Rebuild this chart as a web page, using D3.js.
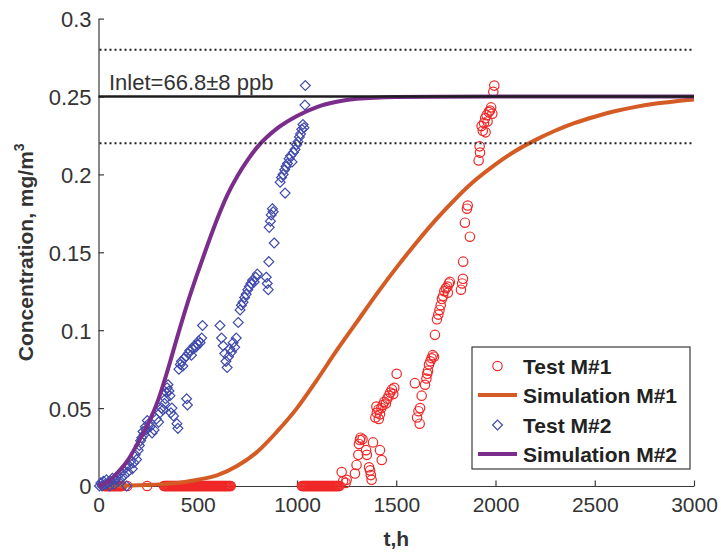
<!DOCTYPE html>
<html>
<head>
<meta charset="utf-8">
<script src="https://cdn.jsdelivr.net/npm/d3@7/dist/d3.min.js"></script>
<style>
  html, body { margin: 0; padding: 0; background: #fff; }
  svg { display: block; font-family: "Liberation Sans", Arial, Helvetica, sans-serif; }
</style>
</head>
<body>
<svg id="chart" width="721" height="556"></svg>
<script>
// ---- data -------------------------------------------------------------
const xTicks = [0, 500, 1000, 1500, 2000, 2500, 3000];
const yTicks = [0, 0.05, 0.1, 0.15, 0.2, 0.25, 0.3];
const yTickLabels = ["0", "0.05", "0.1", "0.15", "0.2", "0.25", "0.3"];

const inletLevel = 0.25;
const inletUpper = 0.28;
const inletLower = 0.22;
const inletLabel = "Inlet=66.8\u00B18 ppb";

const legendNames = ["Test M#1", "Simulation M#1", "Test M#2", "Simulation M#2"];

// Test M#1: sampling times (h) with no breakthrough (concentration 0)
const test1ZeroT = [
  30, 34, 38, 42, 46, 50, 54, 58, 62, 66, 70, 74, 78, 82, 86, 90, 94, 98, 102, 106, 110, 114, 118,
  145, 245,
  330, 334, 338, 342, 346, 350, 354, 358, 362, 366, 370, 374, 378, 382, 386, 390, 394, 398, 402,
  406, 410, 414, 418, 422, 426, 430, 434, 438, 442, 446, 450, 454, 458, 462, 466, 470, 474, 478,
  482, 486, 490, 494, 498, 502, 506, 510, 514, 518, 522, 526, 530, 534, 538, 542, 546, 550, 554,
  558, 562, 566, 570, 574, 578, 582, 586, 590, 594, 598, 602, 606, 610, 614, 618, 622, 626, 630,
  634, 638, 642, 646, 650, 654, 658, 662, 666,
  1025, 1029, 1033, 1037, 1041, 1045, 1049, 1053, 1057, 1061, 1065, 1069, 1073, 1077, 1081, 1085,
  1089, 1093, 1097, 1101, 1105, 1109, 1113, 1117, 1121, 1125, 1129, 1133, 1137, 1141, 1145, 1149,
  1153, 1157, 1161, 1165, 1169, 1173, 1177, 1181, 1185, 1189, 1193, 1197, 1201, 1205, 1209, 1213
];

// Test M#1: breakthrough samples, time (h) and concentration (mg/m3)
const test1T = [
  1225, 1232, 1245, 1250, 1292, 1300, 1309, 1317, 1320, 1312, 1330, 1348, 1352, 1383,
  1418, 1427, 1363, 1368, 1376, 1372,
  1395, 1402, 1410, 1418, 1425, 1432, 1440, 1448, 1455, 1462, 1470, 1478, 1485, 1490, 1400, 1412,
  1502, 1594, 1605, 1612, 1620, 1618, 1628,
  1645, 1652, 1660, 1665, 1672, 1678, 1684, 1690, 1656, 1695,
  1705, 1712, 1718, 1724, 1730, 1736, 1742, 1750, 1758, 1765, 1770, 1760,
  1826, 1832, 1836, 1837, 1846, 1856, 1860, 1871,
  1915, 1922, 1920,
  1930, 1936, 1942, 1948, 1955, 1960, 1966, 1972, 1978, 1984, 1950,
  1989, 1994
];
const test1C = [
  0.009, 0.003, 0.002, 0.004, 0.008, 0.0135, 0.020, 0.0295, 0.031, 0.027, 0.030, 0.023, 0.020, 0.028,
  0.023, 0.0167, 0.012, 0.010, 0.004, 0.007,
  0.044, 0.047, 0.049, 0.046, 0.050, 0.052, 0.054, 0.053, 0.056, 0.058, 0.060, 0.062, 0.059, 0.063, 0.051, 0.043,
  0.072, 0.066, 0.044, 0.048, 0.050, 0.040, 0.058,
  0.065, 0.069, 0.074, 0.078, 0.080, 0.082, 0.084, 0.083, 0.072, 0.097,
  0.107, 0.110, 0.113, 0.116, 0.120, 0.122, 0.125, 0.127, 0.128, 0.130, 0.131, 0.124,
  0.126, 0.130, 0.133, 0.144, 0.169, 0.178, 0.180, 0.160,
  0.209, 0.214, 0.218,
  0.231, 0.228, 0.233, 0.236, 0.238, 0.234, 0.240, 0.241, 0.243, 0.239, 0.227,
  0.253, 0.257
];

// Test M#2: time (h) and concentration (mg/m3)
const test2T = [
  5, 12, 18, 25, 32, 40, 48, 55, 62, 70, 78, 85, 92, 100, 108, 115, 122, 130, 138, 142,
  148, 155, 162, 170, 178, 185, 192, 200, 206, 212, 218, 224, 230, 236, 240, 246, 252,
  260, 270, 280, 292, 303, 310, 318, 325, 332, 338, 342, 346, 350, 355, 360, 365, 370,
  378, 395, 400, 405, 412, 418, 425, 432, 440, 444, 448, 452, 460, 468, 475, 482, 490,
  498, 505, 512, 520, 524,
  612, 620, 628, 636, 642, 648, 655, 662, 670, 678, 686, 694, 704,
  713, 720, 728, 736, 744, 752, 760, 768, 776, 784, 792, 800,
  845, 850, 855, 858, 885, 860, 866, 870, 876, 880,
  940, 915, 922, 930, 938, 945, 952, 960, 968, 975, 982, 990, 998, 1005, 1012, 1018,
  1024, 1030, 1035, 1040, 1042
];
const test2C = [
  0.000, 0.002, 0.000, 0.003, 0.001, 0.004, 0.002, 0.000, 0.003, 0.005, 0.001, 0.004, 0.006,
  0.003, 0.008, 0.005, 0.010, 0.007, 0.012, 0.000,
  0.009, 0.013, 0.016, 0.011, 0.015, 0.020, 0.017, 0.023, 0.026, 0.029, 0.031, 0.035, 0.033,
  0.038, 0.036, 0.042, 0.040,
  0.038, 0.034, 0.036, 0.043, 0.041, 0.047, 0.050, 0.049, 0.053, 0.056, 0.060, 0.063, 0.065,
  0.061, 0.058, 0.047, 0.050,
  0.045, 0.040, 0.037, 0.075, 0.078, 0.080, 0.077, 0.082, 0.083, 0.056, 0.052, 0.085, 0.087,
  0.084, 0.088, 0.090, 0.089,
  0.091, 0.093, 0.092, 0.095, 0.103,
  0.103, 0.095, 0.090, 0.085, 0.080, 0.076, 0.083, 0.088, 0.086, 0.092, 0.089, 0.095, 0.105,
  0.113, 0.116, 0.118, 0.121, 0.123, 0.126, 0.128, 0.130, 0.132, 0.131, 0.134, 0.136,
  0.134, 0.130, 0.126, 0.144, 0.156, 0.166, 0.170, 0.174, 0.178, 0.176,
  0.188, 0.195, 0.198, 0.200, 0.203, 0.205, 0.207, 0.210, 0.212, 0.208, 0.214, 0.216, 0.219,
  0.221, 0.224, 0.226,
  0.229, 0.232, 0.230, 0.2445, 0.257
];

// Simulation M#1
const sim1T = [0, 200, 400, 500, 600, 700, 800, 900, 1000, 1100, 1200, 1300, 1400, 1500, 1600,
  1700, 1800, 1900, 2000, 2100, 2200, 2300, 2400, 2500, 2600, 2700, 2800, 2900, 3000];
const sim1C = [0, 0.0005, 0.002, 0.004, 0.007, 0.013, 0.022, 0.035, 0.050, 0.068, 0.087, 0.105,
  0.123, 0.140, 0.156, 0.171, 0.1845, 0.1965, 0.2065, 0.215, 0.222, 0.228, 0.233, 0.237, 0.2405,
  0.2432, 0.2453, 0.2468, 0.248];

// Simulation M#2
const sim2T = [0, 50, 100, 150, 200, 250, 300, 350, 400, 450, 500, 550, 600, 650, 700, 750, 800,
  900, 1000, 1100, 1200, 1300, 1500, 1700, 2000, 3000];
const sim2C = [0, 0.003, 0.009, 0.017, 0.028, 0.040, 0.055, 0.075, 0.097, 0.118, 0.137, 0.155,
  0.172, 0.187, 0.199, 0.209, 0.2175, 0.2295, 0.2375, 0.2432, 0.2466, 0.2485, 0.2497, 0.2499, 0.25, 0.25];

// ---- layout -----------------------------------------------------------
const svg = d3.select("#chart");
const plot = { left: 98.5, right: 694, top: 18.6, bottom: 486 };

const x = d3.scaleLinear().domain([0, 3000]).range([plot.left, plot.right]);
const y = d3.scaleLinear().domain([0, 0.3]).range([plot.bottom, plot.top]);

const axisColor = "#3a3a3a";
const textColor = "#333";
const colors = {
  test1: "#f02828",
  sim1: "#d45b24",
  test2: "#3f4aab",
  sim2: "#7b2d8c",
  inlet: "#1e1e1e"
};

// ---- axes -------------------------------------------------------------
const xAxis = d3.axisBottom(x).tickValues(xTicks).tickSizeInner(-5.5).tickSizeOuter(0)
  .tickPadding(11).tickFormat(d3.format("d"));
const yAxis = d3.axisLeft(y).tickValues(yTicks).tickSizeInner(-5.5).tickSizeOuter(0)
  .tickPadding(7).tickFormat((d, i) => yTickLabels[i]);

const gx = svg.append("g").attr("transform", `translate(0,${plot.bottom})`).call(xAxis);
const gy = svg.append("g").attr("transform", `translate(${plot.left},0)`).call(yAxis);

[gx, gy].forEach(g => {
  g.select(".domain").attr("stroke", axisColor).attr("stroke-width", 1.2);
  g.selectAll(".tick line").attr("stroke", axisColor).attr("stroke-width", 1.2);
  g.selectAll(".tick text")
    .attr("fill", textColor)
    .attr("font-family", "Liberation Sans, Arial, sans-serif");
});
gx.selectAll(".tick text").attr("dy", "0.71em").attr("font-size", 21);
gy.selectAll(".tick text").attr("dy", "0.36em").attr("font-size", 22);

// axis titles
svg.append("text")
  .attr("x", (plot.left + plot.right) / 2)
  .attr("y", 546)
  .attr("text-anchor", "middle")
  .attr("font-size", 21)
  .attr("font-weight", "bold")
  .attr("fill", textColor)
  .text("t,h");

const yTitle = svg.append("text")
  .attr("transform", `translate(33,${(plot.top + plot.bottom) / 2}) rotate(-90)`)
  .attr("text-anchor", "middle")
  .attr("font-size", 21)
  .attr("font-weight", "bold")
  .attr("fill", textColor);
yTitle.append("tspan").text("Concentration, mg/m");
yTitle.append("tspan").attr("font-size", 14).attr("dy", -9).text("3");

// ---- series -----------------------------------------------------------
const test1 = test1ZeroT.map(t => ({ t, c: 0 }))
  .concat(test1T.map((t, i) => ({ t, c: test1C[i] })));
const test2 = test2T.map((t, i) => ({ t, c: test2C[i] }));
const sim1 = sim1T.map((t, i) => ({ t, c: sim1C[i] }));
const sim2 = sim2T.map((t, i) => ({ t, c: sim2C[i] }));

const line = d3.line().x(d => x(d.t)).y(d => y(d.c)).curve(d3.curveMonotoneX);
const diamond = d3.symbol().type(d3.symbolDiamond2).size(62);

// Test M#1 circles
svg.append("g").selectAll("circle").data(test1).join("circle")
  .attr("cx", d => x(d.t)).attr("cy", d => y(d.c)).attr("r", 4.7)
  .attr("fill", "none").attr("stroke", colors.test1).attr("stroke-width", 1.2);

// Simulation M#1
svg.append("path").datum(sim1).attr("d", line)
  .attr("fill", "none").attr("stroke", colors.sim1).attr("stroke-width", 4);

// Test M#2 diamonds
svg.append("g").selectAll("path").data(test2).join("path")
  .attr("transform", d => `translate(${x(d.t)},${y(d.c)})`)
  .attr("d", diamond)
  .attr("fill", "none").attr("stroke", colors.test2).attr("stroke-width", 1.2);

// Simulation M#2
svg.append("path").datum(sim2).attr("d", line)
  .attr("fill", "none").attr("stroke", colors.sim2).attr("stroke-width", 4);

// ---- inlet concentration band ------------------------------------------
svg.append("line")
  .attr("x1", x(0)).attr("x2", x(3000))
  .attr("y1", y(inletLevel)).attr("y2", y(inletLevel))
  .attr("stroke", colors.inlet).attr("stroke-width", 2.6);

[inletUpper, inletLower].forEach(v => {
  svg.append("line")
    .attr("x1", x(0) + 1).attr("x2", x(3000))
    .attr("y1", y(v)).attr("y2", y(v))
    .attr("stroke", colors.inlet).attr("stroke-width", 2)
    .attr("stroke-dasharray", "2,3");
});

svg.append("text")
  .attr("x", 109).attr("y", y(inletLevel) - 7)
  .attr("font-size", 22)
  .attr("fill", textColor)
  .text(inletLabel);

// ---- legend -----------------------------------------------------------
const legend = svg.append("g");
legend.append("rect")
  .attr("x", 472).attr("y", 347).attr("width", 218).attr("height", 122)
  .attr("fill", "#fff").attr("stroke", axisColor).attr("stroke-width", 1.2);

const rowY = [366, 395, 425, 454];
legendNames.forEach((name, i) => {
  const cy = rowY[i];
  if (i === 0) {
    legend.append("circle").attr("cx", 497.5).attr("cy", cy).attr("r", 4.7)
      .attr("fill", "none").attr("stroke", colors.test1).attr("stroke-width", 1.2);
  } else if (i === 2) {
    legend.append("path").attr("transform", `translate(497.5,${cy})`).attr("d", diamond)
      .attr("fill", "none").attr("stroke", colors.test2).attr("stroke-width", 1.2);
  } else {
    legend.append("line").attr("x1", 478).attr("x2", 517).attr("y1", cy).attr("y2", cy)
      .attr("stroke", i === 1 ? colors.sim1 : colors.sim2).attr("stroke-width", 4);
  }
  legend.append("text")
    .attr("x", 523).attr("y", cy + 7.5)
    .attr("font-size", 21).attr("font-weight", "bold")
    .attr("fill", "#222")
    .text(name);
});
</script>
</body>
</html>
